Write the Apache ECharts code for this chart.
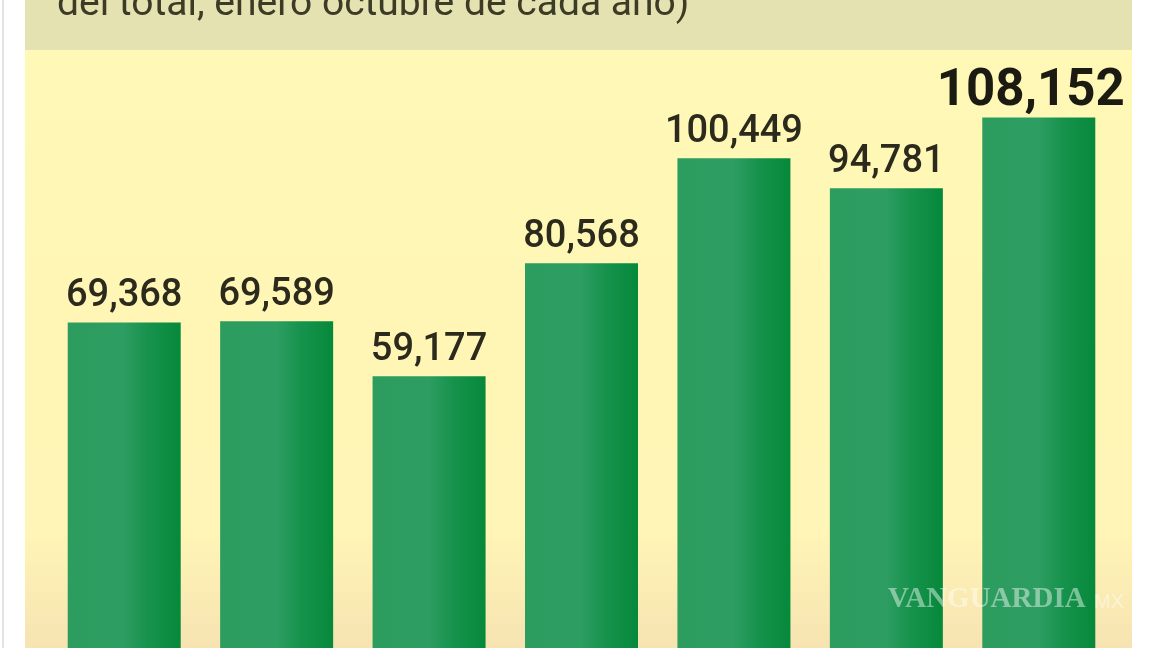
<!DOCTYPE html>
<html>
<head>
<meta charset="utf-8">
<script src="https://cdn.jsdelivr.net/npm/echarts@6/dist/echarts.min.js"></script>
<style>
  html, body { margin: 0; padding: 0; background: #ffffff; }
  #chart { width: 1152px; height: 648px; }
</style>
</head>
<body>
<div id="chart"></div>
<script>
// datos: enero-octubre de cada año (años no visibles en el recorte)
var categorias = ["A1", "A2", "A3", "A4", "A5", "A6", "A7"];
var valores = [69368, 69589, 59177, 80568, 100449, 94781, 108152];
var subtitulo = "del total, enero octubre de cada año)";

var dom = document.getElementById("chart");
var myChart = echarts.init(dom);

function formatNum(v) {
  return String(v).replace(/\B(?=(\d{3})+(?!\d))/g, ",");
}

var barColor = {
  type: "linear",
  x: 0, y: 0, x2: 1, y2: 0,
  colorStops: [
    { offset: 0, color: "#2c9c5f" },
    { offset: 0.5, color: "#2d9d61" },
    { offset: 0.72, color: "#16924c" },
    { offset: 1, color: "#06893b" },
  ],
};

var seriesData = valores.map(function (v, i) {
  var item = { value: v };
  if (i == valores.length - 1) {
    // el ultimo año va resaltado
    item.label = {
      fontSize: 51,
      fontWeight: "bold",
      color: "#1c1b12",
      distance: 0,
      offset: [-8, 0],
    };
  }
  return item;
});

var option = {
  backgroundColor: "#ffffff",
  animation: false,
  grid: { left: 48, top: 55, width: 1067, height: 634, outerBoundsMode: "none" },
  xAxis: {
    type: "category",
    data: categorias,
    axisLine: { show: false },
    axisTick: { show: false },
    axisLabel: { show: false },
  },
  yAxis: {
    type: "value",
    min: 0,
    max: 120000,
    show: false,
    splitLine: { show: false },
  },
  graphic: [
    {
      type: "rect",
      z: -10,
      shape: { x: 25, y: 0, width: 1107, height: 648 },
      style: {
        fill: {
          type: "linear",
          x: 0, y: 0, x2: 0, y2: 1,
          colorStops: [
            { offset: 0, color: "#fff8b6" },
            { offset: 0.82, color: "#fff5b6" },
            { offset: 1, color: "#f6e3b1" },
          ],
        },
      },
    },
    {
      type: "rect",
      z: -9,
      shape: { x: 25, y: 0, width: 1107, height: 50 },
      style: { fill: "#e5e2b1" },
    },
    {
      type: "rect",
      z: -9,
      shape: { x: 2, y: 0, width: 2, height: 648 },
      style: { fill: "#e4e4e4" },
    },
    {
      type: "text",
      z: 10,
      style: {
        text: subtitulo,
        x: 57,
        y: 25,
        verticalAlign: "bottom",
        font: "39px Roboto",
        fill: "#3c3b26",
      },
    },
    {
      type: "text",
      z: 100,
      style: {
        text: "VANGUARDIA",
        x: 888,
        y: 614,
        verticalAlign: "bottom",
        font: "bold 29px 'Liberation Serif'",
        fill: "rgba(255,255,255,0.45)",
      },
    },
    {
      type: "text",
      z: 100,
      style: {
        text: "MX",
        x: 1094,
        y: 612,
        verticalAlign: "bottom",
        font: "20px 'Liberation Sans'",
        fill: "rgba(255,255,255,0.45)",
      },
    },
  ],
  series: [
    {
      type: "bar",
      data: seriesData,
      barWidth: 113,
      itemStyle: { color: barColor },
      label: {
        show: true,
        position: "top",
        distance: 7,
        fontFamily: "Roboto",
        fontSize: 38,
        fontWeight: 500,
        color: "#2b2a1c",
        formatter: function (params) {
          return formatNum(params.value);
        },
      },
    },
  ],
};
myChart.setOption(option);
</script>
</body>
</html>
